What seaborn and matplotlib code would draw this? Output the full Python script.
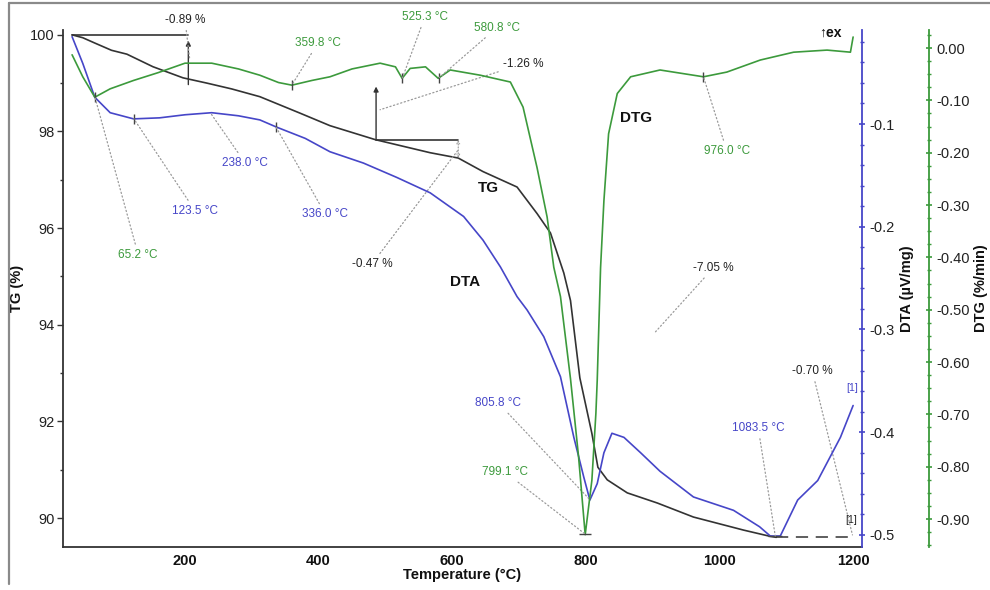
import numpy as np
import matplotlib
matplotlib.use("Agg")
import matplotlib.pyplot as plt
from matplotlib.lines import Line2D
from matplotlib.ticker import MultipleLocator, FormatStrFormatter
import seaborn as sns

# ---------------- data ----------------
tg_T = [31, 47, 65, 90, 113, 152, 197, 233, 270, 312, 372, 417, 485, 567, 609,
        646, 697, 727, 747, 767, 777, 791, 809, 818, 832, 862, 907, 961, 1036,
        1076, 1085]
tg_val = [100.0, 99.94, 99.83, 99.68, 99.60, 99.34, 99.11, 99.00, 98.88, 98.72,
          98.38, 98.12, 97.83, 97.56, 97.45, 97.17, 96.85, 96.30, 95.90, 95.07,
          94.50, 92.90, 91.75, 91.05, 90.79, 90.52, 90.31, 90.02, 89.75, 89.62,
          89.60]
tg_tail_T = [1085, 1200]
tg_tail_val = [89.60, 89.60]

dta_T = [31, 47, 65, 88, 123, 162, 200, 240, 280, 312, 337, 380, 417, 467, 517,
         567, 617, 646, 672, 697, 712, 737, 762, 782, 797, 806, 817, 827, 839,
         857, 882, 911, 961, 1021, 1060, 1076, 1091, 1117, 1147, 1181, 1200]
dta_val = [-0.015, -0.041, -0.074, -0.089, -0.095, -0.094, -0.091, -0.089,
           -0.092, -0.096, -0.103, -0.114, -0.127, -0.138, -0.152, -0.167,
           -0.190, -0.213, -0.239, -0.268, -0.281, -0.307, -0.346, -0.405,
           -0.444, -0.466, -0.450, -0.420, -0.401, -0.405, -0.420, -0.438,
           -0.463, -0.476, -0.492, -0.501, -0.501, -0.466, -0.447, -0.405,
           -0.374]

dtg_T = [31, 47, 65, 88, 123, 160, 200, 240, 280, 312, 340, 360, 390, 417, 450,
         492, 515, 525, 537, 560, 579, 597, 642, 687, 706, 727, 742, 752, 762,
         777, 789, 799, 809, 815, 817, 822, 827, 834, 847, 867, 911, 976, 1011,
         1061, 1111, 1161, 1196, 1200]
dtg_val = [-0.013, -0.055, -0.094, -0.078, -0.062, -0.047, -0.029, -0.029,
           -0.040, -0.052, -0.066, -0.071, -0.062, -0.055, -0.040, -0.029,
           -0.036, -0.058, -0.039, -0.036, -0.058, -0.042, -0.052, -0.065,
           -0.113, -0.229, -0.323, -0.419, -0.475, -0.632, -0.780, -0.930,
           -0.826, -0.698, -0.635, -0.420, -0.292, -0.164, -0.087, -0.055,
           -0.042, -0.055, -0.046, -0.023, -0.008, -0.004, -0.008, 0.021]

x_ticks = [200, 400, 600, 800, 1000, 1200]
tg_ticks = [90, 92, 94, 96, 98, 100]
dta_ticks = [-0.1, -0.2, -0.3, -0.4, -0.5]
dtg_ticks = [0.0, -0.1, -0.2, -0.3, -0.4, -0.5, -0.6, -0.7, -0.8, -0.9]

dtg_peaks = [65.2, 359.8, 525.3, 580.8, 976.0]
dta_peaks = [123.5, 336.0]

# ---------------- style ----------------
sns.set_theme(style="white")
plt.rcParams['font.family'] = ['Liberation Sans', 'DejaVu Sans']
plt.rcParams['axes.linewidth'] = 1.3

BLACK = '#333333'
BLUE = '#4646c8'
GREEN = '#3c9a3c'
GRID = '#9a9a9a'

fig = plt.figure(figsize=(9.9, 5.9), dpi=100)
ax = fig.add_axes([63 / 990, 1 - 547 / 590, (862 - 63) / 990, (547 - 30) / 590])
ax2 = ax.twinx()
ax3 = ax.twinx()

sns.lineplot(x=tg_T, y=tg_val, ax=ax, color=BLACK, linewidth=1.2)
sns.lineplot(x=tg_tail_T, y=tg_tail_val, ax=ax, color=BLACK, linewidth=1.1,
             linestyle=(0, (8, 5)))
sns.lineplot(x=dta_T, y=dta_val, ax=ax2, color=BLUE, linewidth=1.2)
sns.lineplot(x=dtg_T, y=dtg_val, ax=ax3, color=GREEN, linewidth=1.2)

ax.set_xlim(17.4, 1213.3)
ax.set_ylim(89.40, 100.10)
ax2.set_ylim(-0.5117, -0.0085)
ax3.set_ylim(-0.9535, 0.0344)

# spines
for s in ['top', 'right']:
    ax.spines[s].set_visible(False)
for s in ['top', 'left', 'bottom']:
    ax2.spines[s].set_visible(False)
    ax3.spines[s].set_visible(False)
ax.spines['left'].set_color(BLACK)
ax.spines['bottom'].set_color(BLACK)
ax2.spines['right'].set_color(BLUE)
ax3.spines['right'].set_color(GREEN)
ax3.spines['right'].set_position(('axes', (929 - 63) / (862 - 63)))

# ticks
ax.set_xticks(x_ticks)
ax.xaxis.set_minor_locator(MultipleLocator(100))
ax.set_yticks(tg_ticks)
ax.yaxis.set_minor_locator(MultipleLocator(1))
ax.tick_params(axis='x', which='major', direction='inout', length=6, width=1.2,
               labelsize=10.5, colors=BLACK, labelcolor='#111111', pad=2)
ax.tick_params(axis='x', which='minor', direction='inout', length=4, width=1.0,
               colors=BLACK)
ax.tick_params(axis='y', which='major', direction='out', length=4, width=1.0,
               labelsize=10.5, colors=BLACK, labelcolor='#222222', pad=2)
ax.tick_params(axis='y', which='minor', direction='out', length=2.5, width=1.0,
               colors=BLACK)
for lab in ax.get_xticklabels():
    lab.set_fontweight('bold')

ax2.set_yticks(dta_ticks)
ax2.yaxis.set_minor_locator(MultipleLocator(0.02))
ax2.yaxis.set_major_formatter(FormatStrFormatter('%.1f'))
ax2.tick_params(axis='y', which='major', direction='inout', length=5, width=1.2,
                colors=BLUE, labelcolor='#222222', labelsize=10.5, pad=3)
ax2.tick_params(axis='y', which='minor', direction='inout', length=3, width=1.0,
                colors=BLUE)

ax3.set_yticks(dtg_ticks)
ax3.yaxis.set_minor_locator(MultipleLocator(0.025))
ax3.yaxis.set_major_formatter(FormatStrFormatter('%.2f'))
ax3.tick_params(axis='y', which='major', direction='inout', length=5, width=1.2,
                colors=GREEN, labelcolor='#222222', labelsize=10.5, pad=3)
ax3.tick_params(axis='y', which='minor', direction='inout', length=3, width=1.0,
                colors=GREEN)

ax.set_xlabel('Temperature (°C)', fontsize=10.5, fontweight='bold', labelpad=0,
              color='#111111')
ax.set_ylabel('TG (%)', fontsize=10.5, fontweight='bold', labelpad=4,
              color='#111111')
ax2.set_ylabel('DTA (µV/mg)', fontsize=10.5, fontweight='bold', labelpad=4,
               color='#111111')
ax3.set_ylabel('DTG (%/min)', fontsize=10.5, fontweight='bold', labelpad=3,
               color='#111111')

# ---------------- peak markers ----------------
ax3.plot(dtg_peaks, np.interp(dtg_peaks, dtg_T, dtg_val), ls='none', marker='|',
         ms=7, mew=1.0, color='#444444')
ax2.plot(dta_peaks, np.interp(dta_peaks, dta_T, dta_val), ls='none', marker='|',
         ms=7, mew=1.0, color='#444444')
ax3.plot([799.1], [np.interp(799.1, dtg_T, dtg_val)], ls='none', marker='_',
         ms=8, mew=1.0, color='#444444')
ax2.plot([1083.5], [np.interp(1083.5, dta_T, dta_val)], ls='none', marker='_',
         ms=10, mew=1.0, color='#444444')

# ---------------- step construction lines (TG axis) ----------------
tg_at = lambda t: float(np.interp(t, tg_T, tg_val))
ax.plot([31, 205], [100.0, 100.0], color=BLACK, lw=1.2)
ax.annotate('', xy=(205, 99.88), xytext=(205, 98.97),
            arrowprops=dict(arrowstyle='-|>', color=BLACK, lw=1.0,
                            mutation_scale=7, shrinkA=0, shrinkB=0))
ax.plot([486, 609], [tg_at(486), tg_at(486)], color=BLACK, lw=1.2)
ax.annotate('', xy=(486, 98.93), xytext=(486, tg_at(486)),
            arrowprops=dict(arrowstyle='-|>', color=BLACK, lw=1.0,
                            mutation_scale=7, shrinkA=0, shrinkB=0))
ax.annotate('', xy=(609, tg_at(486)), xytext=(609, tg_at(609)),
            arrowprops=dict(arrowstyle='<->', color=GRID, lw=0.8, ls=':',
                            mutation_scale=5, shrinkA=0, shrinkB=0))


def note(target, text, color, txy, xy, size=8.5, weight='normal'):
    kw = dict(ha='center', va='center', fontsize=size, color=color,
              fontweight=weight, annotation_clip=False,
              textcoords=ax.transData)
    if xy is None:
        target.annotate(text, xy=txy, xycoords=ax.transData, xytext=txy, **kw)
    else:
        target.annotate(text, xy=xy, xytext=txy,
                        arrowprops=dict(arrowstyle='-', ls=(0, (1, 2)),
                                        color=GRID, lw=0.9, shrinkA=1,
                                        shrinkB=0), **kw)


dta_at = lambda t: float(np.interp(t, dta_T, dta_val))
dtg_at = lambda t: float(np.interp(t, dtg_T, dtg_val))

note(ax, '-0.89 %', '#222222', (200, 100.31), (207, 99.50))
note(ax3, '359.8 °C', GREEN, (399, 99.83), (359.8, dtg_at(359.8)))
note(ax3, '525.3 °C', GREEN, (559, 100.37), (525.3, dtg_at(525.3)))
note(ax3, '580.8 °C', GREEN, (667, 100.15), (580.8, dtg_at(580.8)))
note(ax, '-1.26 %', '#222222', (706, 99.40), (492, 98.45))
note(ax, '-0.47 %', '#222222', (480, 95.26), (609, 97.62))
note(ax2, '238.0 °C', BLUE, (290, 97.35), (238.0, dta_at(238.0)))
note(ax2, '123.5 °C', BLUE, (215, 96.36), (123.5, dta_at(123.5)))
note(ax2, '336.0 °C', BLUE, (410, 96.29), (336.0, dta_at(336.0)))
note(ax3, '65.2 °C', GREEN, (130, 95.45), (65.2, dtg_at(65.2)))
note(ax3, '976.0 °C', GREEN, (1011, 97.60), (976.0, dtg_at(976.0)))
note(ax, '-7.05 %', '#222222', (991, 95.18), (904, 93.85))
note(ax2, '805.8 °C', BLUE, (669, 92.38), (805.8, dta_at(805.8)))
note(ax3, '799.1 °C', GREEN, (679, 90.95), (799.1, dtg_at(799.1)))
note(ax2, '1083.5 °C', BLUE, (1058, 91.86), (1083.5, dta_at(1083.5)))
note(ax, '-0.70 %', '#222222', (1139, 93.04), (1199, 89.65))
note(ax3, '[1]', BLUE, (1199, 92.69), None, size=7.5)
note(ax3, '[1]', '#222222', (1197, 89.96), None, size=7.5)
note(ax3, '↑ex', '#111111', (1166, 100.04), None, size=10, weight='bold')
note(ax3, 'TG', '#111111', (654, 96.83), None, size=11, weight='bold')
note(ax3, 'DTA', '#111111', (619, 94.89), None, size=11, weight='bold')
note(ax3, 'DTG', '#111111', (875, 98.28), None, size=11, weight='bold')

# outer frame of the original figure
fig.add_artist(Line2D([9 / 990, 1.0], [1 - 3 / 590, 1 - 3 / 590],
                      transform=fig.transFigure, color='#8a8a8a', lw=1.6))
fig.add_artist(Line2D([9 / 990, 9 / 990], [0.01, 1 - 3 / 590],
                      transform=fig.transFigure, color='#8a8a8a', lw=1.6))

fig.savefig('out.png', dpi=100)
